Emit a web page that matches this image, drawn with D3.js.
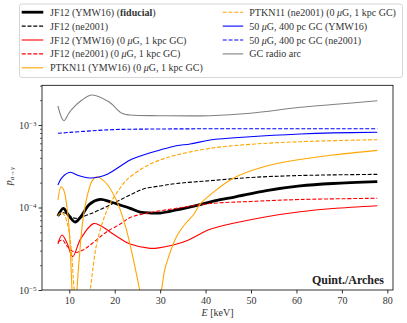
<!DOCTYPE html>
<html><head><meta charset="utf-8">
<script src="https://cdn.jsdelivr.net/npm/d3@7"></script>
<style>
html,body{margin:0;padding:0;background:#fff;}
svg text{font-family:"Liberation Serif","Times New Roman",serif;}
</style></head>
<body>
<svg id="chart" width="407" height="323"></svg>
<script>
// ---- data (E in keV, p_{a->gamma}) ----
const xTicks = [10, 20, 30, 40, 50, 60, 70, 80];
const yMajorTicks = [1e-5, 1e-4, 1e-3];
const yTickExp = ["\u22125", "\u22124", "\u22123"];

const E_fid = [7.5, 8.7, 9.8, 11.3, 12.5, 14.5, 16.8, 19, 21.2, 23.4, 25.6, 28, 30, 33.6, 38.8, 43.2, 46.1, 53.4, 60.8, 68, 77.8];
const p_fid = [7.89e-5, 9.77e-5, 8.11e-5, 6.67e-5, 7.67e-5, 1.10e-4, 1.256e-4, 1.175e-4, 1.072e-4, 9.77e-5, 8.81e-5, 8.57e-5, 8.57e-5, 9.33e-5, 1.086e-4, 1.25e-4, 1.33e-4, 1.60e-4, 1.824e-4, 1.954e-4, 2.056e-4];

const E_jfne = [7.5, 8.8, 11.3, 14.5, 18.2, 20.5, 23.4, 26.3, 30, 33.6, 41, 50, 60.8, 77.8];
const p_jfne = [7.89e-5, 8.65e-5, 7.40e-5, 8.34e-5, 1.023e-4, 1.183e-4, 1.419e-4, 1.675e-4, 1.824e-4, 1.954e-4, 2.113e-4, 2.312e-4, 2.443e-4, 2.523e-4];

const E_red = [7.5, 8.4, 9.5, 10.75, 12.5, 15.3, 16.8, 19, 21, 23.4, 27.8, 30, 32.9, 36, 38.8, 41, 46.1, 53.4, 60.8, 68, 77.8];
const p_red = [3.61e-5, 4.65e-5, 3.72e-5, 2.54e-5, 4.17e-5, 6.38e-5, 6.05e-5, 5.05e-5, 4.27e-5, 3.61e-5, 3.20e-5, 3.26e-5, 3.51e-5, 3.98e-5, 4.78e-5, 5.45e-5, 6.43e-5, 7.73e-5, 8.89e-5, 9.73e-5, 1.052e-4];

const E_redne = [7.5, 8.5, 9.5, 11.3, 13, 14.6, 16.5, 18.2, 21.6, 23.4, 27.8, 33.6, 41, 50, 60.8, 77.8];
const p_redne = [3.82e-5, 4.04e-5, 3.41e-5, 2.85e-5, 3.05e-5, 3.51e-5, 4.27e-5, 5.05e-5, 6.49e-5, 7.57e-5, 8.69e-5, 9.77e-5, 1.117e-4, 1.183e-4, 1.25e-4, 1.294e-4];

const E_ptkn = [7.5, 8.2, 8.8, 9.5, 10.0, 10.6, 11.1, 11.7, 12.3, 13, 14, 15, 16, 17, 18.5, 20, 21.1, 22.6, 24, 25.5, 27.9, 30.3, 31, 32, 33.6, 35.5, 37.3, 38.8, 41, 46.1, 53.4, 60.8, 68, 77.8];
const p_ptkn = [1.233e-4, 1.786e-4, 1.622e-4, 1.0e-4, 5.25e-5, 1e-5, 2e-6, 1e-5, 2.82e-5, 7.08e-5, 1.413e-4, 2.09e-4, 2.36e-4, 2.24e-4, 1.862e-4, 1.349e-4, 9.77e-5, 5.33e-5, 2.51e-5, 1e-5, 2e-6, 1e-5, 1.746e-5, 2.65e-5, 4.43e-5, 6.31e-5, 8.11e-5, 1.10e-4, 1.419e-4, 2.26e-4, 3.18e-4, 3.82e-4, 4.33e-4, 4.93e-4];

const E_ptknne = [7.5, 8.3, 9, 9.8, 10.5, 11.1, 12.8, 14.6, 16, 17.5, 19, 21, 22.6, 26.3, 30, 33.6, 41, 49.8, 60.8, 77.8];
const p_ptknne = [7.94e-5, 8.71e-5, 7.94e-5, 5.62e-5, 2.82e-5, 1e-5, 2e-6, 1e-5, 3.55e-5, 7.08e-5, 1.122e-4, 1.66e-4, 2.15e-4, 3.04e-4, 3.77e-4, 4.33e-4, 5.22e-4, 5.83e-4, 6.28e-4, 6.64e-4];

const E_blue = [7.5, 8.5, 10.2, 12, 14.5, 16.5, 18.5, 21.6, 23.4, 26.3, 30, 33.6, 36.6, 41, 49.8, 60.8, 68, 77.8];
const p_blue = [1.875e-4, 2.34e-4, 2.67e-4, 2.44e-4, 2.28e-4, 2.34e-4, 2.55e-4, 3.27e-4, 3.77e-4, 4.33e-4, 4.98e-4, 5.61e-4, 5.89e-4, 6.58e-4, 7.21e-4, 7.78e-4, 8.02e-4, 8.17e-4];

const E_bluene = [7.5, 10, 15, 20, 25, 30, 40, 50, 60, 70, 77.8];
const p_bluene = [7.94e-4, 8.13e-4, 8.51e-4, 8.81e-4, 8.91e-4, 8.95e-4, 9.0e-4, 9.0e-4, 9.0e-4, 9.0e-4, 9.0e-4];

const E_arc = [7.5, 8.8, 9.9, 10.6, 12.8, 15, 18.7, 21.6, 23.4, 30, 41, 49.8, 60.8, 68, 77.8];
const p_arc = [1.70e-3, 1.127e-3, 1.387e-3, 1.563e-3, 2.01e-3, 2.31e-3, 1.91e-3, 1.387e-3, 1.32e-3, 1.297e-3, 1.297e-3, 1.387e-3, 1.64e-3, 1.77e-3, 1.97e-3];

const seriesLabels = [
  "JF12 (YMW16) (fiducial)",
  "JF12 (ne2001)",
  "JF12 (YMW16) (0 \u03bcG, 1 kpc GC)",
  "JF12 (ne2001) (0 \u03bcG, 1 kpc GC)",
  "PTKN11 (YMW16) (0 \u03bcG, 1 kpc GC)",
  "PTKN11 (ne2001) (0 \u03bcG, 1 kpc GC)",
  "50 \u03bcG, 400 pc GC (YMW16)",
  "50 \u03bcG, 400 pc GC (ne2001)",
  "GC radio arc"
];
const seriesE = [E_fid, E_jfne, E_red, E_redne, E_ptkn, E_ptknne, E_blue, E_bluene, E_arc];
const seriesP = [p_fid, p_jfne, p_red, p_redne, p_ptkn, p_ptknne, p_blue, p_bluene, p_arc];
const seriesColor = ["#000000", "#000000", "#ff0000", "#ff0000", "#ffa500", "#ffa500", "#0000ff", "#0000ff", "#808080"];
const seriesDashed = [false, true, false, true, false, true, false, true, false];
const seriesWidth = [2.8, 1.1, 1.1, 1.1, 1.1, 1.1, 1.1, 1.1, 1.1];

// ---- layout ----
const L = 42, R = 393, T = 85.3, B = 290;
const svg = d3.select("#chart");
const x = d3.scaleLinear().domain([4, 81.25]).range([L, R]);
const y = d3.scaleLog().domain([1e-5, 3.03e-3]).range([B, T]);

svg.append("defs").append("clipPath").attr("id", "clip")
  .append("rect").attr("x", L).attr("y", T).attr("width", R - L).attr("height", B - T);

// x axis
const gx = svg.append("g").attr("transform", `translate(0,${B})`)
  .call(d3.axisBottom(x).tickValues(xTicks).tickSize(3.5).tickPadding(3).tickFormat(d3.format("d")));
gx.select(".domain").remove();
gx.selectAll("line").attr("stroke", "#000").attr("stroke-width", 0.8);
gx.selectAll("text").attr("font-size", 10).attr("fill", "#333").style("font-family", "Liberation Serif");

// y axis minor
const minor = [];
for (let e = -5; e <= -3; e++) for (let m = 2; m <= 9; m++) {
  const v = m * Math.pow(10, e);
  if (v <= y.domain()[1]) minor.push(v);
}
const gym = svg.append("g").attr("transform", `translate(${L},0)`)
  .call(d3.axisLeft(y).tickValues(minor).tickSize(2).tickFormat(""));
gym.select(".domain").remove();
gym.selectAll("line").attr("stroke", "#000").attr("stroke-width", 0.6);

const gy = svg.append("g").attr("transform", `translate(${L},0)`)
  .call(d3.axisLeft(y).tickValues(yMajorTicks).tickSize(3.5).tickPadding(5).tickFormat(""));
gy.select(".domain").remove();
gy.selectAll("line").attr("stroke", "#000").attr("stroke-width", 0.8);
gy.selectAll(".tick").each(function(d, i) {
  const t = d3.select(this).select("text");
  t.attr("font-size", 10).attr("fill", "#333").attr("dy", "0.32em").attr("x", -5.5).attr("text-anchor", "end");
  t.append("tspan").text("10");
  t.append("tspan").attr("dy", "-0.45em").attr("font-size", 7).text(yTickExp[i]);
});

// lines
const line = d3.line().x(d => x(d[0])).y(d => y(d[1])).curve(d3.curveCatmullRom.alpha(0.5));
const gl = svg.append("g").attr("clip-path", "url(#clip)");
seriesE.forEach((E, i) => {
  gl.append("path")
    .attr("d", line(E.map((e, j) => [e, seriesP[i][j]])))
    .attr("fill", "none")
    .attr("stroke", seriesColor[i])
    .attr("stroke-width", seriesWidth[i])
    .attr("stroke-dasharray", seriesDashed[i] ? "4,1.8" : null)
    .attr("stroke-linejoin", "round");
});

// frame
svg.append("rect").attr("x", L).attr("y", T).attr("width", R - L).attr("height", B - T)
  .attr("fill", "none").attr("stroke", "#000").attr("stroke-width", 0.8);

// annotation
svg.append("text").attr("x", 384).attr("y", 283.5).attr("text-anchor", "end")
  .attr("font-size", 12).attr("font-weight", "bold").attr("fill", "#222").text("Quint./Arches");

// axis labels
const xl = svg.append("text").attr("x", (L + R) / 2).attr("y", 316).attr("text-anchor", "middle")
  .attr("font-size", 10).attr("fill", "#333");
xl.append("tspan").attr("font-style", "italic").text("E");
xl.append("tspan").text(" [keV]");

const yl = svg.append("text").attr("transform", "translate(11.5,176) rotate(-90)")
  .attr("text-anchor", "middle").attr("font-size", 10).attr("fill", "#333");
yl.append("tspan").attr("font-style", "italic").text("p");
yl.append("tspan").attr("font-size", 7).attr("dy", "0.3em").attr("font-style", "italic").text("a");
yl.append("tspan").attr("font-size", 7).text("\u2192");
yl.append("tspan").attr("font-size", 7).attr("font-style", "italic").text("\u03b3");

// legend
const lg = svg.append("g");
lg.append("rect").attr("x", 19.5).attr("y", 4).attr("width", 383).attr("height", 73.5).attr("rx", 2.5)
  .attr("fill", "#fff").attr("stroke", "#cccccc").attr("stroke-width", 0.8);
const colX = [21.7, 222.7], handleLen = [21.6, 20.5], textX = [50, 249.3];
seriesLabels.forEach((lab, i) => {
  const c = i < 5 ? 0 : 1;
  const r = i < 5 ? i : i - 5;
  const yy = 12.2 + r * 13.9;
  lg.append("line").attr("x1", colX[c]).attr("x2", colX[c] + handleLen[c]).attr("y1", yy).attr("y2", yy)
    .attr("stroke", seriesColor[i]).attr("stroke-width", seriesWidth[i])
    .attr("stroke-dasharray", seriesDashed[i] ? "4,1.8" : null);
  const t = lg.append("text").attr("x", textX[c]).attr("y", yy + 3.5).attr("font-size", 10).attr("fill", "#333");
  if (lab.indexOf("(fiducial)") >= 0) {
    t.append("tspan").text(lab.replace("(fiducial)", "("));
    t.append("tspan").attr("font-weight", "bold").text("fiducial");
    t.append("tspan").text(")");
  } else {
    lab.split("\u03bc").forEach((part, k) => {
      if (k > 0) t.append("tspan").attr("font-style", "italic").text("\u03bc");
      t.append("tspan").text(part);
    });
  }
});
</script>
</body></html>
